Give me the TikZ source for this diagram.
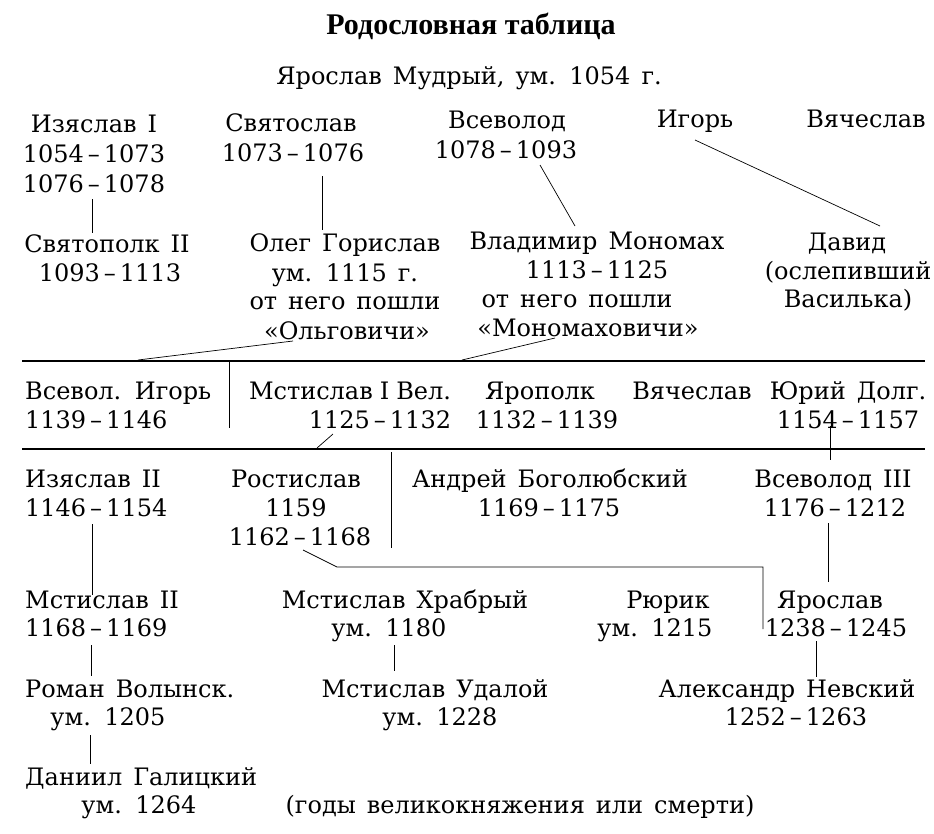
\documentclass[tikz,border=0pt]{standalone}
\usepackage{fontspec}
\setmainfont{DejaVu Serif}
\newfontfamily\titlefont{Liberation Serif}
\newcommand{\rowfont}{\fontsize{24}{29}\selectfont\spaceskip=11pt\relax}
\newcommand{\dd}{\,–\,}
\begin{document}
\begin{tikzpicture}[x=1pt,y=-1pt,
  txt/.style={anchor=base, inner sep=0pt, font=\rowfont},
  ltxt/.style={anchor=base west, inner sep=0pt, font=\rowfont},
  conn/.style={draw=black, line width=0.7pt},
  rule/.style={draw=black, line width=1.3pt}]
\useasboundingbox[fill=white] (0,0) rectangle (934,833);

% title
\node[anchor=base, inner sep=0pt, font=\titlefont\bfseries\fontsize{30}{32}\selectfont] (title) at (471,34) {Родословная таблица};
\node[txt] (yar) at (469,84) {Ярослав Мудрый, ум. 1054 г.};

% row 1
\node[txt] (iz1) at (94,132) {Изяслав I};
\node[txt] (iz1a) at (94,162) {1054\dd1073};
\node[txt] (iz1b) at (94,192) {1076\dd1078};
\node[txt] (svt) at (291,131) {Святослав};
\node[txt] (svta) at (293,161) {1073\dd1076};
\node[txt] (vsv) at (507,128) {Всеволод};
\node[txt] (vsva) at (506,158) {1078\dd1093};
\node[txt] (igor) at (695,127) {Игорь};
\node[txt] (vyach) at (866,127) {Вячеслав};

% row 2
\node[txt] (svp) at (107,252) {Святополк II};
\node[txt] (svpa) at (110,281) {1093\dd1113};
\node[txt] (oleg) at (345,251) {Олег Горислав};
\node[txt] (olega) at (345,281) {ум. 1115 г.};
\node[txt] (olegb) at (345,309) {от него пошли};
\node[txt] (olegc) at (347,339) {«Ольговичи»};
\node[txt] (vlad) at (597,249) {Владимир Мономах};
\node[txt] (vlada) at (597,278) {1113\dd1125};
\node[txt] (vladb) at (577,307) {от него пошли};
\node[txt] (vladc) at (588,336) {«Мономаховичи»};
\node[txt] (david) at (847,250) {Давид};
\node[txt] (davida) at (848,279) {(ослепивший};
\node[txt] (davidb) at (848,307) {Василька)};

% row 3
\node[ltxt] (vig) at (25,399) {Всевол. Игорь};
\node[ltxt] (viga) at (25,428) {1139\dd1146};
\node[txt] (mst1) at (350,399) {\spaceskip=7pt\relax Мстислав I Вел.};
\node[txt] (mst1a) at (380,428) {1125\dd1132};
\node[txt] (yarp) at (540,399) {Ярополк};
\node[txt] (yarpa) at (547,428) {1132\dd1139};
\node[txt] (vyach2) at (692,399) {Вячеслав};
\node[txt] (yuri) at (848,399) {Юрий Долг.};
\node[txt] (yuria) at (848,428) {1154\dd1157};

% row 4
\node[ltxt] (iz2) at (25,487) {Изяслав II};
\node[ltxt] (iz2a) at (25,516) {1146\dd1154};
\node[txt] (ros) at (296,487) {Ростислав};
\node[txt] (rosa) at (296,516) {1159};
\node[txt] (rosb) at (300,545) {1162\dd1168};
\node[txt] (andr) at (550,487) {Андрей Боголюбский};
\node[txt] (andra) at (549,516) {1169\dd1175};
\node[txt] (vs3) at (833,487) {Всеволод III};
\node[txt] (vs3a) at (835,516) {1176\dd1212};

% row 5
\node[ltxt] (mst2) at (25,608) {Мстислав II};
\node[ltxt] (mst2a) at (25,636) {1168\dd1169};
\node[txt] (hrab) at (405,608) {Мстислав Храбрый};
\node[txt] (hraba) at (389,636) {ум. 1180};
\node[txt] (ryur) at (668,608) {Рюрик};
\node[txt] (ryura) at (655,636) {ум. 1215};
\node[txt] (yaro) at (830,608) {Ярослав};
\node[txt] (yaroa) at (836,636) {1238\dd1245};

% row 6
\node[ltxt] (rom) at (25,697) {Роман Волынск.};
\node[txt] (roma) at (108,725) {ум. 1205};
\node[txt] (udal) at (435,697) {Мстислав Удалой};
\node[txt] (udala) at (440,725) {ум. 1228};
\node[txt] (alex) at (787,697) {Александр Невский};
\node[txt] (alexa) at (796,725) {1252\dd1263};

% row 7
\node[ltxt] (dan) at (25,785) {Даниил Галицкий};
\node[txt] (dana) at (139,813) {ум. 1264};
\node[txt] (note) at (520,813) {(годы великокняжения или смерти)};

% connector ends
\coordinate (iz1-o) at (92,199);   \coordinate (svp-i) at (92,233);
\coordinate (svt-o) at (322,176);  \coordinate (oleg-i) at (322,230);
\coordinate (vsv-o) at (540,165);  \coordinate (vlad-i) at (575,226);
\coordinate (igor-o) at (695,140); \coordinate (david-i) at (880,226);
\coordinate (olg-o) at (293,341);  \coordinate (olg-i) at (138,360);
\coordinate (mon-o) at (555,338);  \coordinate (mon-i) at (462,360);
\coordinate (r1a) at (22,361);     \coordinate (r1b) at (925,361);
\coordinate (d1a) at (229,362);    \coordinate (d1b) at (229,428);
\coordinate (mst1-o) at (333,434); \coordinate (mst1-i) at (317,448);
\coordinate (r2a) at (22,449);     \coordinate (r2b) at (925,449);
\coordinate (yuri-o) at (830,426); \coordinate (vs3-i) at (830,460);
\coordinate (d2a) at (391,452);    \coordinate (d2b) at (391,548);
\coordinate (iz2-o) at (92,524);   \coordinate (mst2-i) at (92,595);
\coordinate (ros-o) at (303,550);  \coordinate (ros-k1) at (337,567);
\coordinate (ros-k2) at (763,567); \coordinate (ros-i) at (763,629);
\coordinate (vs3-o) at (828,523);  \coordinate (yaro-i) at (828,582);
\coordinate (mst2-o) at (91,645);  \coordinate (rom-i) at (91,676);
\coordinate (hrab-o) at (394,645); \coordinate (udal-i) at (394,671);
\coordinate (yaro-o) at (816,641); \coordinate (alex-i) at (816,677);
\coordinate (rom-o) at (90,735);   \coordinate (dan-i) at (90,764);

\draw[conn] (iz1-o) -- (svp-i);
\draw[conn] (svt-o) -- (oleg-i);
\draw[conn] (vsv-o) -- (vlad-i);
\draw[conn] (igor-o) -- (david-i);
\draw[conn] (olg-o) -- (olg-i);
\draw[conn] (mon-o) -- (mon-i);
\draw[rule] (r1a) -- (r1b);
\draw[conn] (d1a) -- (d1b);
\draw[conn] (mst1-o) -- (mst1-i);
\draw[rule] (r2a) -- (r2b);
\draw[conn] (yuri-o) -- (vs3-i);
\draw[conn] (d2a) -- (d2b);
\draw[conn] (iz2-o) -- (mst2-i);
\draw[conn] (ros-o) -- (ros-k1) -- (ros-k2) -- (ros-i);
\draw[conn] (vs3-o) -- (yaro-i);
\draw[conn] (mst2-o) -- (rom-i);
\draw[conn] (hrab-o) -- (udal-i);
\draw[conn] (yaro-o) -- (alex-i);
\draw[conn] (rom-o) -- (dan-i);
\end{tikzpicture}
\end{document}
